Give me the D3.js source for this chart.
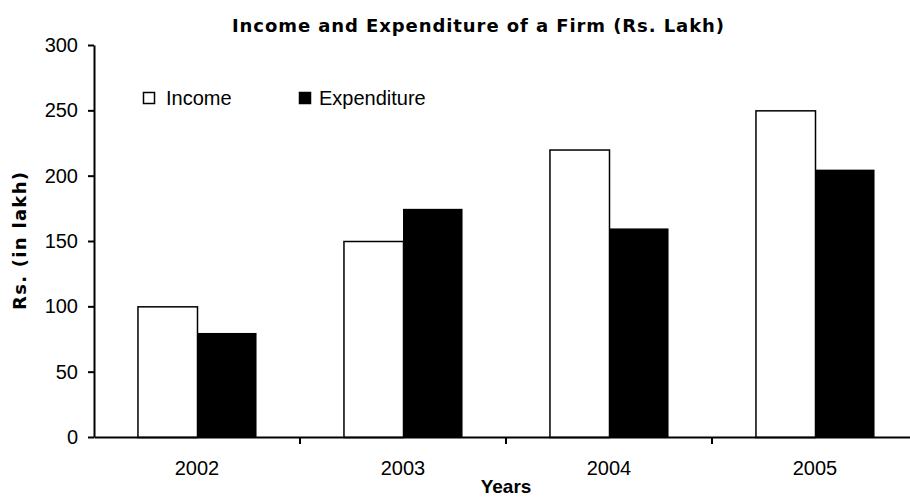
<!DOCTYPE html>
<html>
<head>
<meta charset="utf-8">
<script src="https://cdn.jsdelivr.net/npm/d3@7"></script>
<style>
  body { margin: 0; background: #fff; }
  .chart_chart { width: 910px; height: 498px; }
  text { font-family: "Liberation Sans", Arial, sans-serif; fill: #000; }
</style>
</head>
<body>
<div class="chart_chart"></div>
<script>
(function () {
    // data
    const years = ['2002', '2003', '2004', '2005'];
    const income = [100, 150, 220, 250];
    const expenditure = [80, 175, 160, 205];
    const series = ['Income', 'Expenditure'];
    const yTicks = [0, 50, 100, 150, 200, 250, 300];

    const width = 910, height = 498;
    const padding = { top: 45, left: 94, bottom: 61 };
    const plotRight = 918; // plot area runs past the right edge, as in the picture

    const svg = d3.select('.chart_chart').append('svg')
        .attr('width', width).attr('height', height);

    const xScale = d3.scaleBand().domain(years).range([padding.left, plotRight]);
    const yScale = d3.scaleLinear().domain([0, 300]).range([height - padding.bottom, padding.top]);

    const inner = d3.scaleBand().domain(series).range([0, xScale.bandwidth()])
        .paddingInner(0).paddingOuter(0.73);

    const colors = ['#fff', '#000'];
    const data_lists = [income, expenditure];

    // bars
    for (let j = 0; j < 2; j++) {
        svg.append('g').selectAll('rect').data(data_lists[j]).enter().append('rect')
            .attr('x', function (d, i) { return xScale(years[i]) + inner(series[j]) + (j === 0 ? 0.5 : 0); })
            .attr('y', function (d) { return yScale(d) + 0.5; })
            .attr('width', inner.bandwidth())
            .attr('height', function (d) { return yScale(0) - yScale(d); })
            .attr('fill', colors[j])
            .attr('stroke', '#000')
            .attr('stroke-width', j === 0 ? 1.5 : 0);
    }

    // y axis
    const yAxis = svg.append('g')
        .attr('transform', `translate(${padding.left},0)`)
        .call(d3.axisLeft(yScale).tickValues(yTicks).tickSize(6).tickPadding(10).tickSizeOuter(0));
    yAxis.select('.domain').attr('stroke-width', 2);
    yAxis.selectAll('.tick line').attr('stroke-width', 2);
    yAxis.selectAll('text').style('font-size', '20px').attr('fill', '#000');

    // x axis
    const xAxis = svg.append('g')
        .attr('transform', `translate(0,${yScale(0)})`)
        .call(d3.axisBottom(xScale).tickSize(0).tickPadding(24));
    xAxis.select('.domain').attr('stroke-width', 2);
    xAxis.selectAll('text').style('font-size', '20px').attr('fill', '#000');
    // category separators
    xAxis.selectAll('.sep').data(years.slice(1)).enter().append('line')
        .attr('x1', function (d) { return xScale(d); })
        .attr('x2', function (d) { return xScale(d); })
        .attr('y1', 0).attr('y2', 7)
        .attr('stroke', '#000').attr('stroke-width', 2);

    // title
    svg.append('text')
        .attr('x', 478).attr('y', 32)
        .attr('text-anchor', 'middle')
        .attr('textLength', 492).attr('lengthAdjust', 'spacing')
        .style('font-family', '"DejaVu Sans", Verdana, sans-serif')
        .style('font-weight', 'bold').style('font-size', '18px')
        .text('Income and Expenditure of a Firm (Rs. Lakh)');

    // axis titles
    svg.append('text')
        .attr('transform', `translate(26,${(yScale(0) + yScale(300)) / 2}) rotate(-90)`)
        .attr('text-anchor', 'middle')
        .attr('textLength', 138).attr('lengthAdjust', 'spacing')
        .style('font-family', '"DejaVu Sans", Verdana, sans-serif')
        .style('font-weight', 'bold').style('font-size', '18px')
        .text('Rs. (in lakh)');
    svg.append('text')
        .attr('x', (padding.left + plotRight) / 2).attr('y', 493)
        .attr('text-anchor', 'middle')
        .style('font-weight', 'bold').style('font-size', '19px')
        .text('Years');

    // legend
    const legend = svg.append('g');
    const legendX = [143, 299];
    for (let j = 0; j < 2; j++) {
        legend.append('rect')
            .attr('x', legendX[j] + 0.5).attr('y', 92.5)
            .attr('width', 11).attr('height', 11)
            .attr('fill', colors[j]).attr('stroke', '#000').attr('stroke-width', 1.5);
        legend.append('text')
            .attr('x', legendX[j] + (j === 0 ? 23 : 20)).attr('y', 105)
            .style('font-size', '20px')
            .text(series[j]);
    }
})();
</script>
</body>
</html>
